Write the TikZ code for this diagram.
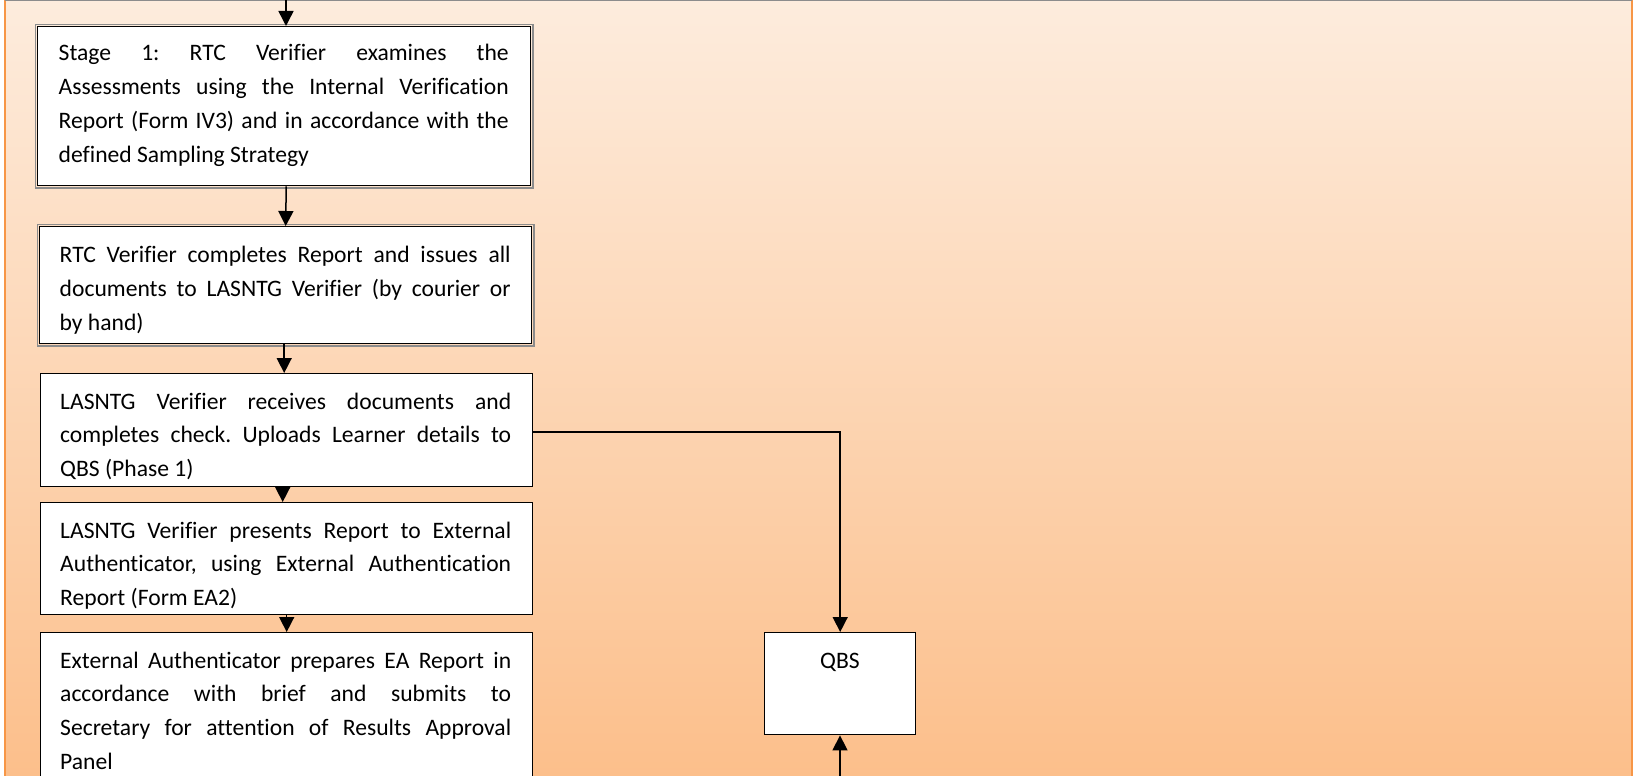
\documentclass[tikz,border=0pt]{standalone}
\usepackage{fontspec}
\setmainfont{Carlito}[Ligatures={NoCommon,NoRequired,NoContextual}]
\usetikzlibrary{arrows.meta}
\definecolor{bgtop}{RGB}{253,236,221}
\definecolor{bgbot}{RGB}{252,191,139}
\definecolor{frameor}{RGB}{247,150,70}
\tikzset{
  boxnode/.style={draw=black, line width=1.4pt, fill=white, inner sep=0pt, anchor=north west},
  txt/.style={anchor=base west, inner sep=0pt, text width=451pt, align=justify, font=\fontsize{23.6}{33.9}\selectfont\frenchspacing},
  conn/.style={line width=1.5pt, -{Triangle[width=15pt,length=15pt]}},
  outerline/.style={draw=black!45, line width=1.5pt}
}
\begin{document}
\begin{tikzpicture}[x=1pt,y=-1pt]
\clip (0,0) rectangle (1638,776);
\fill[white] (0,0) rectangle (1638,776);
\shade[top color=bgtop, bottom color=bgbot] (5,0) rectangle (1632,776);
\draw[frameor, line width=2.2pt] (5,0) -- (5,776);
\draw[frameor, line width=2.2pt] (1632,0) -- (1632,776);
\draw[black!45, line width=1pt] (5,0.5) -- (1632,0.5);

% boxes
\node[boxnode, minimum width=493pt, minimum height=159pt] (b1) at (37,26) {};
\node[boxnode, minimum width=492pt, minimum height=117pt] (b2) at (39,226) {};
\node[boxnode, minimum width=492pt, minimum height=112.5pt] (b3) at (40,373) {};
\node[boxnode, minimum width=492pt, minimum height=111.5pt] (b4) at (40,502) {};
\node[boxnode, minimum width=492pt, minimum height=180pt] (b5) at (40,632) {};
\node[boxnode, minimum width=151pt, minimum height=102pt] (qbs) at (764,632) {};

\draw[outerline] ([shift={(-1.6pt,1.6pt)}]b1.north west) rectangle ([shift={(1.6pt,-1.6pt)}]b1.south east);
\draw[outerline] ([shift={(-1.6pt,1.6pt)}]b2.north west) rectangle ([shift={(1.6pt,-1.6pt)}]b2.south east);

% texts
\node[txt, text width=450pt] (t1) at (58.5,60.7) {Stage 1: RTC Verifier examines the\linebreak Assessments using the Internal Verification\linebreak Report (Form IV3) and in accordance with the\linebreak defined Sampling Strategy};
\node[txt] (t2) at (59.5,262.5) {RTC Verifier completes Report and issues all\linebreak documents to LASNTG Verifier (by courier or\linebreak by hand)};
\node[txt] (t3) at (60,409) {LASNTG Verifier receives documents and\linebreak completes check. Uploads Learner details to\linebreak QBS (Phase 1)};
\node[txt] (t4) at (60,538) {LASNTG Verifier presents Report to External\linebreak Authenticator, using External Authentication\linebreak Report (Form EA2)};
\node[txt] (t5) at (60,668) {External Authenticator prepares EA Report in\linebreak accordance with brief and submits to\linebreak Secretary for attention of Results Approval\linebreak Panel};
\node[anchor=base, inner sep=0pt, font=\fontsize{23.6}{33.9}\selectfont] (tq) at (840,668) {QBS};

% connectors
\coordinate (topin) at (286,0);
\coordinate (botin) at (840,776);
\draw[conn] (topin) -- (topin |- b1.north);
\draw[conn] ([xshift=2pt]b1.south) -- (b2.north);
\draw[conn] ([xshift=-1.5pt]b2.south) -- ([xshift=-1.5pt]b2.south |- b3.north);
\draw[conn] ([xshift=-4pt]b3.south) -- ([xshift=-4pt]b3.south |- b4.north);
\draw[conn] (b4.south) -- (b4.south |- b5.north);
\draw[conn] ([yshift=-2pt]b3.east) -| (qbs.north);
\draw[conn] (botin) -- (botin |- qbs.south);
\end{tikzpicture}
\end{document}
